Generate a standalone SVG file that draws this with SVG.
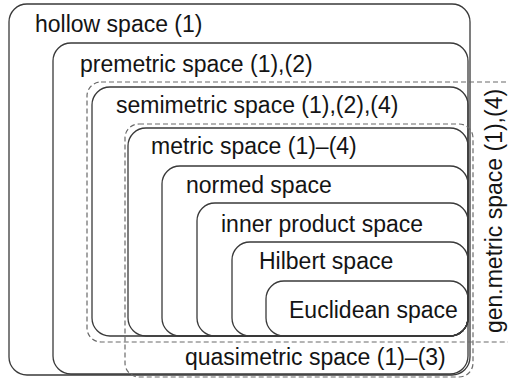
<svg xmlns="http://www.w3.org/2000/svg" width="508" height="378" viewBox="0 0 508 378">
<style>
  .box{fill:none;stroke:#3a3a3a;stroke-width:1.3}
  .dash{fill:none;stroke:#6a6a6a;stroke-width:1.2;stroke-dasharray:5 3}
  .lbl{font-family:"Liberation Sans",Arial,Helvetica,sans-serif;font-size:23px;fill:#141414}
</style>
<rect width="508" height="378" fill="#ffffff"/>
<g id="hollow">
  <rect class="box" x="9" y="4" width="461" height="371" rx="18"/>
  <text class="lbl" x="35" y="32">hollow space (1)</text>
</g>
<g id="premetric">
  <rect class="box" x="53" y="43" width="415" height="331" rx="18"/>
  <text class="lbl" x="80" y="72">premetric space (1),(2)</text>
</g>
<g id="genmetric">
  <rect class="dash" x="87" y="82" width="440" height="260" rx="14"/>
  <text class="lbl" transform="translate(502,211) rotate(-90)" text-anchor="middle">gen.metric space (1),(4)</text>
</g>
<g id="semimetric">
  <rect class="box" x="92" y="87" width="376" height="249" rx="18"/>
  <text class="lbl" x="116" y="113">semimetric space (1),(2),(4)</text>
</g>
<g id="quasimetric">
  <rect class="dash" x="125" y="124" width="348" height="253" rx="14"/>
  <text class="lbl" x="185" y="365">quasimetric space (1)–(3)</text>
</g>
<g id="metric">
  <rect class="box" x="128" y="128" width="340" height="208" rx="18"/>
  <text class="lbl" x="151" y="154">metric space (1)–(4)</text>
</g>
<g id="normed">
  <rect class="box" x="162" y="166" width="306" height="170" rx="18"/>
  <text class="lbl" x="186" y="193">normed space</text>
</g>
<g id="innerproduct">
  <rect class="box" x="197" y="203" width="271" height="133" rx="18"/>
  <text class="lbl" x="221" y="232">inner product space</text>
</g>
<g id="hilbert">
  <rect class="box" x="232" y="242" width="236" height="94" rx="18"/>
  <text class="lbl" x="259" y="269">Hilbert space</text>
</g>
<g id="euclidean">
  <rect class="box" x="266" y="281" width="202" height="55" rx="18"/>
  <text class="lbl" x="289" y="318">Euclidean space</text>
</g>
<g id="connectors"/>
</svg>
